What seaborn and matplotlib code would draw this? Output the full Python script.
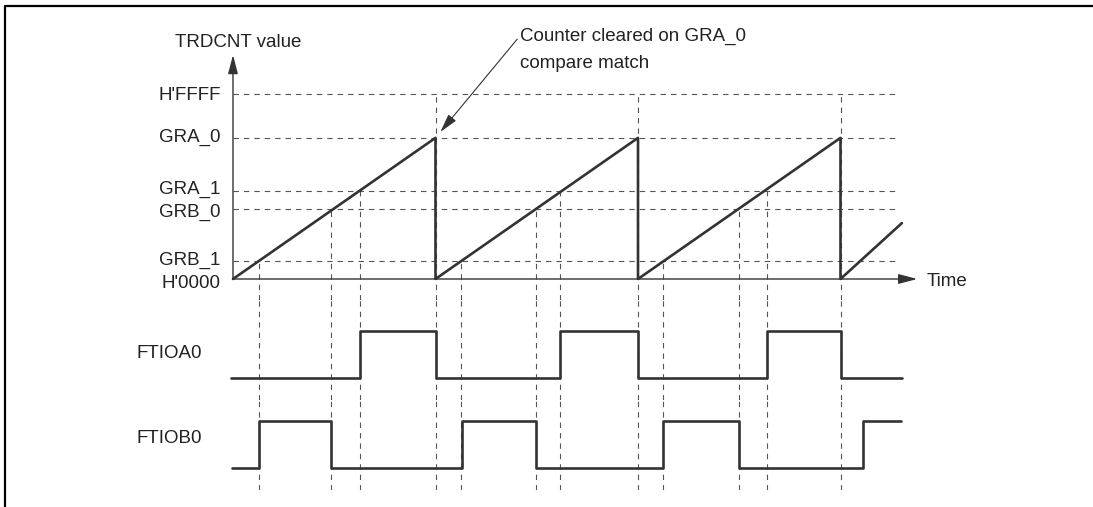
import matplotlib
matplotlib.use("Agg")
import matplotlib.pyplot as plt
import seaborn as sns
from matplotlib.transforms import offset_copy

sns.set_theme(style="white")
plt.rcParams["font.family"] = ["Liberation Sans", "DejaVu Sans"]
plt.rcParams["lines.scale_dashes"] = False

# ---------------- data ----------------
level_names = ["H'0000", "GRB_1", "GRB_0", "GRA_1", "GRA_0", "H'FFFF"]
level_values = [0, 6400, 24800, 31200, 50000, 65535]

ramp_time = [0, 100, 100, 200, 200, 300, 300, 330.3]
ramp_value = [0, 50000, 0, 50000, 0, 50000, 0, 19800]

clear_times = [100, 200, 300]
grb1_times = [12.7, 112.8, 212.5]
grb0_times = [48.4, 149.5, 250.0]
gra1_times = [62.7, 161.6, 263.5]

signal_names = ["FTIOA0", "FTIOB0"]
ftioa0_time = [-1, 62.7, 100, 161.5, 200, 263.5, 300, 330.4]
ftioa0_level = [0, 1, 0, 1, 0, 1, 0, 0]
ftiob0_time = [-0.6, 12.6, 48.2, 112.9, 149.5, 212.5, 250, 311, 329.9]
ftiob0_level = [0, 1, 0, 1, 0, 1, 0, 1, 1]

grid_time_end = 327.6
axis_time_end = 337.9
axis_value_end = 79350

y_title = "TRDCNT value"
x_title = "Time"
note_lines = ["Counter cleared on GRA_0", "compare match"]

# ---------------- layout ----------------
W, H = 1093, 507
X0, PXT = 233, 2.025
XLIM = (-X0 / PXT, (W - X0) / PXT)
INK = "#333333"
TXT = "#222222"
GRID = "#555555"
DASH = (0, (3.9, 3.6))
FS = 13.5

fig = plt.figure(figsize=(W / 100, H / 100), dpi=100)

ov = fig.add_axes([0, 0, 1, 1])
ov.set_xlim(0, W)
ov.set_ylim(H, 0)
ov.set_axis_off()


def band(top, bot, va, pya, vb, pyb):
    ax = fig.add_axes([0, 1 - bot / H, 1, (bot - top) / H])
    s = (vb - va) / (pya - pyb)
    lims = (va - (bot - pya) * s, va + (pya - top) * s)
    ax.set_axis_off()
    return ax, lims


ax_c, lim_c = band(0, 300, 0, 279, 65535, 94)
ax_a, lim_a = band(300, 400, 0, 378.3, 1, 331)
ax_b, lim_b = band(400, 490, 0, 467.7, 1, 420.7)

# counter ramp
sns.lineplot(x=ramp_time, y=ramp_value, ax=ax_c, estimator=None, sort=False,
             color=INK, lw=1.9, zorder=5)

# output signals
for ax, t, v in [(ax_a, ftioa0_time, ftioa0_level), (ax_b, ftiob0_time, ftiob0_level)]:
    sns.lineplot(x=t, y=v, ax=ax, estimator=None, sort=False, drawstyle="steps-post",
                 color=INK, lw=1.9, zorder=5)

for ax, lim in [(ax_c, lim_c), (ax_a, lim_a), (ax_b, lim_b)]:
    ax.set_xlim(*XLIM)
    ax.set_ylim(*lim)
    ax.set_axis_off()

# horizontal reference lines
ax_c.hlines(level_values[1:], 0, grid_time_end, colors=GRID, lw=0.8, linestyles=DASH, zorder=1)

# vertical reference lines in counter panel
for times, lvl in [(clear_times, level_values[5]), (grb1_times, level_values[1]),
                   (grb0_times, level_values[2]), (gra1_times, level_values[3])]:
    ax_c.vlines(times, lim_c[0], lvl, colors=GRID, lw=0.8, linestyles=DASH, zorder=1)

all_marks = clear_times + grb1_times + grb0_times + gra1_times
for ax, lim in [(ax_a, lim_a), (ax_b, lim_b)]:
    ax.vlines(all_marks, lim[0], lim[1], colors=GRID, lw=0.8, linestyles=DASH, zorder=1)

# axes arrows
arrow_style = "-|>,head_length=0.95,head_width=0.25"
for end in [(axis_time_end, 0), (0, axis_value_end)]:
    ax_c.annotate("", xy=end, xytext=(0, 0),
                  arrowprops=dict(arrowstyle=arrow_style, mutation_scale=12, lw=1.0,
                                  color=INK, shrinkA=0, shrinkB=0), zorder=6)

# level labels
nudges = [2.7, -3, 1, -4, -3, -0.7]
for name, val, nd in zip(level_names, level_values, nudges):
    tr = offset_copy(ax_c.transData, fig=fig, x=-12.5, y=-(6.7 + nd), units="dots")
    ax_c.text(0, val, name, transform=tr, ha="right", va="baseline", fontsize=FS, color=TXT)

# annotation
ax_c.annotate("", xy=(clear_times[0], level_values[4]), xytext=(81.7, 98.7),
              textcoords="offset pixels",
              arrowprops=dict(arrowstyle=arrow_style, mutation_scale=12, lw=0.8,
                              color=INK, shrinkA=0, shrinkB=5.5))

ov.text(520.5, 40.7, note_lines[0], ha="left", va="baseline", fontsize=FS, color=TXT)
ov.text(520.5, 67.7, note_lines[1], ha="left", va="baseline", fontsize=FS, color=TXT)
ov.text(175, 46.7, y_title, ha="left", va="baseline", fontsize=FS, color=TXT)
ov.text(926.7, 286, x_title, ha="left", va="baseline", fontsize=FS, color=TXT)
ov.text(137, 357.7, signal_names[0], ha="left", va="baseline", fontsize=FS, color=TXT)
ov.text(137, 442.7, signal_names[1], ha="left", va="baseline", fontsize=FS, color=TXT)

# frame (top and left edges)
ov.plot([5.3, 5.3, W], [H, 6.3, 6.3], color="black", lw=1.6, solid_capstyle="butt")

fig.savefig("out.png", dpi=100)
